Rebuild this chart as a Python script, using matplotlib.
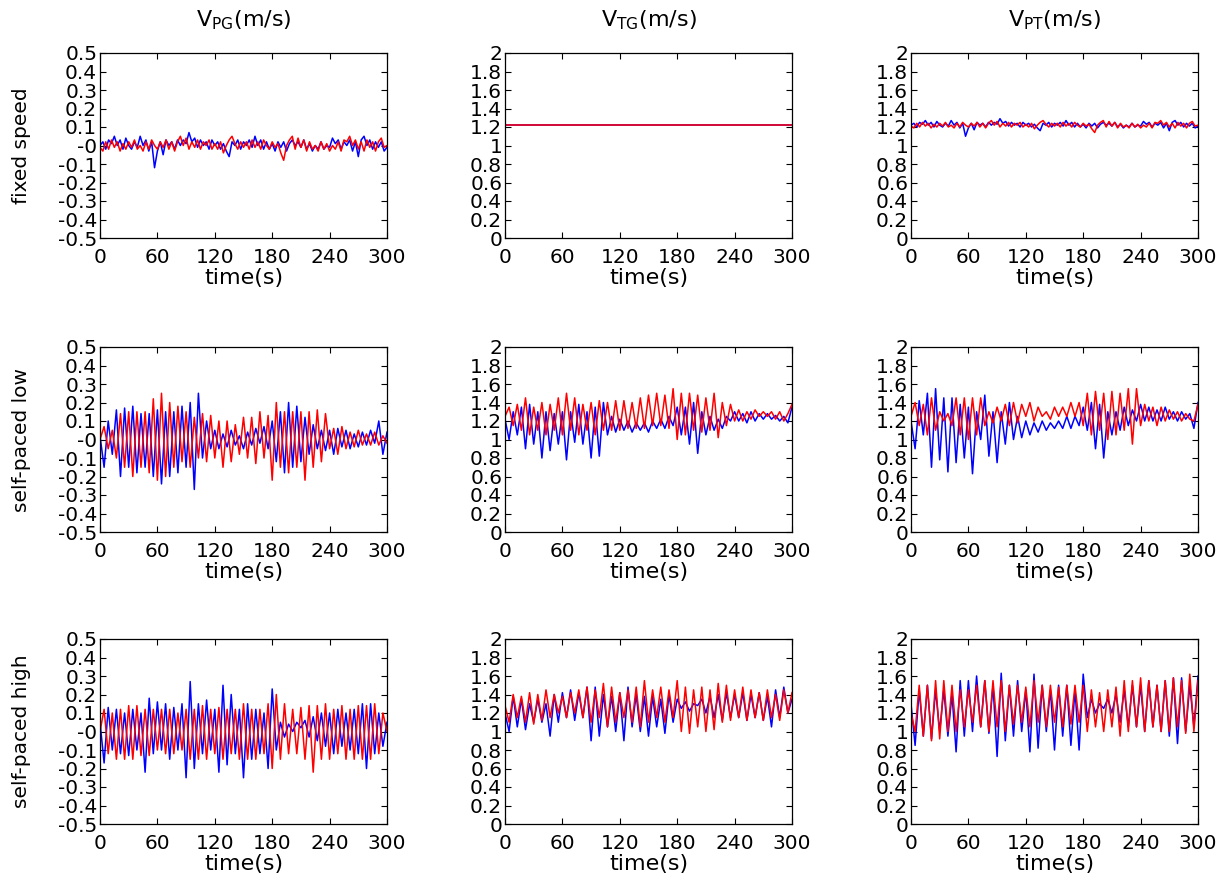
import numpy as np
import matplotlib
matplotlib.use("Agg")
import matplotlib.pyplot as plt

plt.rcParams['font.family'] = ['DejaVu Sans']
plt.rcParams['axes.unicode_minus'] = False
plt.rcParams['mathtext.fontset'] = 'dejavusans'

col_titles = ['PG', 'TG', 'PT']
row_labels = ['fixed speed', 'self-paced low', 'self-paced high']
x_ticks = [0, 60, 120, 180, 240, 300]

# ---- fixed speed (sampled every 3 s) ----
pg_fixed_blue = [0.0, 0.02, -0.02, 0.03, 0.01, 0.05, 0.0, 0.03, -0.02, 0.04,
                 0.0, -0.02, 0.02, -0.01, 0.05, 0.0, 0.03, -0.03, 0.02, -0.12,
                 -0.03, 0.02, -0.05, 0.03, 0.0, 0.02, -0.02, 0.03, 0.0, 0.03,
                 0.01, 0.07, 0.02, 0.04, -0.01, 0.03, 0.0, 0.02, -0.02, 0.03,
                 0.0, 0.02, -0.02, 0.01, -0.03, -0.06, 0.02, 0.0, 0.03, -0.02,
                 0.02, 0.0, 0.03, -0.01, 0.05, 0.0, 0.03, -0.02, 0.02, -0.02,
                 0.01, -0.03, 0.02, -0.01, 0.02, -0.03, 0.01, 0.03, 0.0, 0.02,
                 -0.01, 0.03, -0.02, 0.01, -0.03, 0.0, -0.02, 0.02, -0.02, 0.0,
                 -0.01, 0.04, 0.01, 0.03, -0.02, 0.02, 0.0, 0.03, -0.03, 0.02,
                 -0.06, 0.03, 0.05, 0.0, 0.03, -0.02, 0.02, -0.01, 0.02, -0.03,
                 -0.01]
pg_fixed_red = [-0.01, -0.03, 0.02, -0.02, 0.03, -0.01, 0.02, -0.03, 0.01, -0.02,
                0.02, -0.01, 0.03, -0.02, 0.0, -0.03, 0.02, -0.02, 0.03, 0.0,
                -0.02, 0.02, -0.01, 0.03, -0.02, 0.02, -0.03, 0.02, 0.05, 0.0,
                0.04, -0.02, 0.02, -0.01, 0.03, -0.02, 0.02, 0.0, 0.03, -0.02,
                0.01, -0.02, 0.02, -0.04, 0.0, 0.03, 0.05, 0.01, -0.02, 0.02,
                -0.01, 0.02, -0.02, 0.03, -0.01, 0.02, -0.02, 0.03, 0.0, -0.02,
                0.02, -0.01, 0.01, -0.04, -0.08, 0.0, 0.03, 0.05, -0.02, 0.04,
                -0.01, 0.03, -0.03, 0.02, -0.02, 0.0, -0.03, 0.02, -0.02, 0.01,
                -0.03, 0.0, -0.02, 0.02, -0.03, 0.03, 0.02, 0.05, 0.0, 0.03,
                -0.02, 0.02, -0.03, 0.03, -0.01, 0.02, -0.03, 0.02, 0.04, -0.01,
                0.0]
tg_fixed_blue = [1.22, 1.22]
tg_fixed_red = [1.22, 1.22]
pt_fixed_blue = [1.22, 1.24, 1.2, 1.25, 1.23, 1.27, 1.22, 1.25, 1.2, 1.26,
                 1.22, 1.2, 1.24, 1.21, 1.27, 1.22, 1.25, 1.19, 1.24, 1.1,
                 1.19, 1.24, 1.17, 1.25, 1.22, 1.24, 1.2, 1.25, 1.22, 1.25,
                 1.23, 1.29, 1.24, 1.26, 1.21, 1.25, 1.22, 1.24, 1.2, 1.25,
                 1.22, 1.24, 1.2, 1.23, 1.19, 1.16, 1.24, 1.22, 1.25, 1.2,
                 1.24, 1.22, 1.25, 1.21, 1.27, 1.22, 1.25, 1.2, 1.24, 1.2,
                 1.23, 1.19, 1.24, 1.21, 1.24, 1.19, 1.23, 1.25, 1.22, 1.24,
                 1.21, 1.25, 1.2, 1.23, 1.19, 1.22, 1.2, 1.24, 1.2, 1.22,
                 1.21, 1.26, 1.23, 1.25, 1.2, 1.24, 1.22, 1.25, 1.19, 1.24,
                 1.16, 1.25, 1.27, 1.22, 1.25, 1.2, 1.24, 1.21, 1.24, 1.19,
                 1.21]
pt_fixed_red = [1.21, 1.19, 1.24, 1.2, 1.25, 1.21, 1.24, 1.19, 1.23, 1.2,
                1.24, 1.21, 1.25, 1.2, 1.22, 1.19, 1.24, 1.2, 1.25, 1.22,
                1.2, 1.24, 1.21, 1.25, 1.2, 1.24, 1.19, 1.24, 1.27, 1.22,
                1.26, 1.2, 1.24, 1.21, 1.25, 1.2, 1.24, 1.22, 1.25, 1.2,
                1.23, 1.2, 1.24, 1.18, 1.22, 1.25, 1.27, 1.23, 1.2, 1.24,
                1.21, 1.24, 1.2, 1.25, 1.21, 1.24, 1.2, 1.25, 1.22, 1.2,
                1.24, 1.21, 1.23, 1.18, 1.14, 1.22, 1.25, 1.27, 1.2, 1.26,
                1.21, 1.25, 1.19, 1.24, 1.2, 1.22, 1.19, 1.24, 1.2, 1.23,
                1.19, 1.22, 1.2, 1.24, 1.19, 1.25, 1.24, 1.27, 1.22, 1.25,
                1.2, 1.24, 1.19, 1.25, 1.21, 1.24, 1.19, 1.24, 1.26, 1.21,
                1.22]

# ---- self-paced low (peaks/troughs, ~4.3 s apart) ----
pg_low_blue = [0.02, -0.15, 0.1, -0.08, 0.16, -0.2, 0.17, -0.15, 0.18, -0.18,
               0.14, -0.15, 0.14, -0.2, 0.16, -0.24, 0.15, -0.2, 0.15, -0.18,
               0.18, -0.15, 0.2, -0.27, 0.25, -0.1, 0.1, -0.05, 0.05, -0.05,
               0.03, -0.04, 0.05, -0.03, 0.02, -0.05, 0.04, -0.03, 0.06, -0.02,
               0.07, -0.05, 0.1, -0.12, 0.15, -0.18, 0.2, -0.15, 0.18, -0.12,
               0.12, -0.08, 0.08, -0.05, 0.05, -0.06, 0.05, -0.08, 0.06, -0.04,
               0.05, -0.05, 0.03, -0.04, 0.04, -0.03, 0.05, -0.02, 0.1, -0.08,
               0.04]
pg_low_red = [0.0, 0.07, -0.05, 0.05, -0.1, 0.14, -0.15, 0.15, -0.2, 0.15,
              -0.15, 0.15, -0.18, 0.22, -0.22, 0.25, -0.2, 0.2, -0.15, 0.18,
              -0.12, 0.15, -0.15, 0.12, -0.1, 0.14, -0.12, 0.13, -0.1, 0.1,
              -0.15, 0.1, -0.12, 0.08, -0.08, 0.12, -0.1, 0.12, -0.13, 0.15,
              -0.1, 0.13, -0.22, 0.2, -0.15, 0.15, -0.18, 0.15, -0.15, 0.15,
              -0.22, 0.15, -0.15, 0.16, -0.12, 0.14, -0.05, 0.06, -0.08, 0.07,
              -0.05, 0.04, -0.04, 0.05, -0.03, 0.03, -0.03, 0.04, -0.03, 0.02,
              -0.02]
tg_low_blue = [1.22, 1.0, 1.3, 1.05, 1.35, 0.9, 1.38, 0.95, 1.3, 0.8,
               1.3, 0.88, 1.28, 0.95, 1.3, 0.78, 1.3, 0.97, 1.38, 0.95,
               1.3, 0.8, 1.35, 0.82, 1.4, 1.05, 1.25, 1.08, 1.22, 1.1,
               1.2, 1.08, 1.18, 1.1, 1.18, 1.08, 1.2, 1.12, 1.22, 1.12,
               1.25, 1.15, 1.35, 1.05, 1.35, 0.95, 1.4, 0.85, 1.3, 1.05,
               1.25, 1.1, 1.22, 1.12, 1.25, 1.2, 1.3, 1.2, 1.28, 1.18,
               1.3, 1.2, 1.28, 1.22, 1.28, 1.22, 1.26, 1.2, 1.25, 1.18,
               1.35]
tg_low_red = [1.25, 1.35, 1.15, 1.38, 1.1, 1.45, 1.05, 1.35, 1.1, 1.4,
              1.05, 1.38, 1.1, 1.45, 1.05, 1.5, 1.1, 1.45, 1.05, 1.38,
              1.1, 1.4, 1.05, 1.42, 1.1, 1.4, 1.1, 1.42, 1.1, 1.42,
              1.12, 1.4, 1.12, 1.45, 1.12, 1.48, 1.15, 1.5, 1.15, 1.48,
              1.12, 1.55, 1.0, 1.5, 1.05, 1.5, 1.1, 1.48, 1.08, 1.45,
              1.1, 1.5, 1.02, 1.4, 1.15, 1.38, 1.2, 1.32, 1.2, 1.3,
              1.22, 1.32, 1.25, 1.3, 1.25, 1.3, 1.22, 1.3, 1.2, 1.28,
              1.38]
pt_low_blue = [1.2, 0.9, 1.42, 1.05, 1.5, 0.7, 1.55, 0.78, 1.45, 0.65,
               1.45, 0.75, 1.38, 0.8, 1.35, 0.63, 1.3, 1.0, 1.48, 0.82,
               1.3, 0.75, 1.3, 0.95, 1.4, 1.0, 1.25, 1.02, 1.2, 1.05,
               1.18, 1.08, 1.2, 1.1, 1.18, 1.12, 1.2, 1.12, 1.25, 1.12,
               1.25, 1.15, 1.35, 1.1, 1.4, 0.9, 1.38, 0.8, 1.3, 1.05,
               1.3, 1.1, 1.35, 1.15, 1.32, 1.2, 1.38, 1.2, 1.35, 1.2,
               1.32, 1.2, 1.35, 1.22, 1.3, 1.2, 1.3, 1.22, 1.28, 1.12,
               1.4]
pt_low_red = [1.25, 1.4, 1.15, 1.38, 1.05, 1.45, 1.1, 1.3, 1.2, 1.28,
              1.15, 1.45, 1.05, 1.45, 1.0, 1.45, 1.05, 1.45, 1.15, 1.3,
              1.18, 1.35, 1.2, 1.38, 1.15, 1.4, 1.18, 1.38, 1.25, 1.4,
              1.2, 1.35, 1.25, 1.3, 1.22, 1.35, 1.25, 1.35, 1.25, 1.4,
              1.25, 1.4, 1.15, 1.5, 1.05, 1.52, 1.1, 1.5, 1.0, 1.52,
              1.05, 1.5, 1.1, 1.55, 0.95, 1.55, 1.15, 1.38, 1.2, 1.35,
              1.15, 1.35, 1.2, 1.32, 1.22, 1.3, 1.2, 1.28, 1.22, 1.2,
              1.38]

# ---- self-paced high ----
pg_high_blue = [0.05, -0.17, 0.13, -0.1, 0.12, -0.12, 0.1, -0.13, 0.12, -0.1,
                0.1, -0.22, 0.18, -0.12, 0.16, -0.1, 0.15, -0.15, 0.13, -0.1,
                0.15, -0.25, 0.27, -0.2, 0.15, -0.12, 0.17, -0.1, 0.12, -0.22,
                0.25, -0.18, 0.2, -0.12, 0.12, -0.25, 0.15, -0.15, 0.12, -0.12,
                0.1, -0.2, 0.23, -0.1, 0.05, -0.03, 0.04, 0.0, 0.05, 0.02,
                0.06, -0.03, 0.08, -0.05, 0.1, -0.08, 0.1, -0.12, 0.12, -0.08,
                0.1, -0.1, 0.12, -0.12, 0.15, -0.2, 0.15, -0.12, 0.1, -0.08,
                0.05]
pg_high_red = [0.0, 0.12, -0.12, 0.1, -0.15, 0.12, -0.15, 0.14, -0.15, 0.14,
               -0.13, 0.12, -0.13, 0.12, -0.1, 0.12, -0.12, 0.12, -0.12, 0.1,
               -0.1, 0.12, -0.15, 0.12, -0.15, 0.14, -0.15, 0.12, -0.12, 0.13,
               -0.15, 0.12, -0.12, 0.12, -0.15, 0.15, -0.15, 0.12, -0.15, 0.12,
               -0.12, 0.15, -0.2, 0.2, -0.15, 0.15, -0.12, 0.12, -0.12, 0.13,
               -0.15, 0.14, -0.22, 0.14, -0.15, 0.15, -0.15, 0.12, -0.12, 0.14,
               -0.15, 0.12, -0.15, 0.14, -0.15, 0.14, -0.15, 0.15, -0.12, 0.1,
               0.0]
tg_high_blue = [1.2, 1.0, 1.38, 1.05, 1.35, 1.02, 1.3, 1.1, 1.35, 1.1,
                1.3, 0.95, 1.4, 1.1, 1.42, 1.15, 1.45, 1.12, 1.42, 1.15,
                1.48, 0.9, 1.48, 0.95, 1.4, 1.05, 1.38, 1.0, 1.42, 0.9,
                1.48, 1.05, 1.4, 1.0, 1.38, 0.95, 1.38, 1.05, 1.35, 0.98,
                1.4, 1.1, 1.35, 1.25, 1.32, 1.22, 1.3, 1.28, 1.35, 1.2,
                1.38, 1.15, 1.4, 1.12, 1.42, 1.15, 1.4, 1.15, 1.42, 1.12,
                1.4, 1.15, 1.42, 1.12, 1.38, 1.05, 1.45, 1.15, 1.48, 1.2,
                1.35]
tg_high_red = [1.28, 1.1, 1.4, 1.15, 1.38, 1.1, 1.42, 1.08, 1.4, 1.12,
               1.45, 1.15, 1.4, 1.2, 1.38, 1.15, 1.42, 1.2, 1.45, 1.15,
               1.48, 1.1, 1.45, 1.15, 1.52, 1.05, 1.48, 1.1, 1.42, 1.15,
               1.45, 1.1, 1.48, 1.05, 1.55, 1.1, 1.45, 1.15, 1.48, 1.1,
               1.45, 1.15, 1.55, 1.0, 1.48, 0.98, 1.45, 1.05, 1.48, 1.0,
               1.45, 1.02, 1.52, 1.1, 1.5, 1.12, 1.45, 1.15, 1.48, 1.12,
               1.45, 1.15, 1.42, 1.12, 1.45, 1.15, 1.4, 1.12, 1.45, 1.2,
               1.42]
pt_high_blue = [1.3, 0.85, 1.45, 0.95, 1.5, 0.92, 1.45, 1.0, 1.45, 0.95,
                1.4, 0.78, 1.55, 0.95, 1.55, 1.0, 1.6, 1.05, 1.55, 0.98,
                1.5, 0.73, 1.63, 0.9, 1.5, 0.95, 1.55, 1.0, 1.45, 0.78,
                1.62, 0.82, 1.5, 1.0, 1.45, 0.8, 1.5, 0.95, 1.5, 0.85,
                1.45, 0.8, 1.62, 1.15, 1.35, 1.2, 1.3, 1.25, 1.35, 1.2,
                1.4, 1.1, 1.45, 1.05, 1.5, 1.05, 1.5, 1.0, 1.55, 1.05,
                1.5, 1.0, 1.55, 0.95, 1.58, 0.87, 1.58, 1.0, 1.5, 1.05,
                1.6]
pt_high_red = [1.2, 1.0, 1.5, 0.95, 1.5, 0.9, 1.55, 0.92, 1.55, 1.0,
               1.5, 1.0, 1.45, 1.05, 1.45, 1.1, 1.5, 1.05, 1.55, 1.0,
               1.55, 1.05, 1.55, 1.0, 1.5, 1.08, 1.5, 1.1, 1.48, 1.05,
               1.55, 1.1, 1.5, 1.05, 1.5, 1.1, 1.48, 1.05, 1.5, 1.08,
               1.5, 1.1, 1.5, 1.0, 1.45, 1.05, 1.42, 1.0, 1.45, 1.05,
               1.48, 0.95, 1.55, 1.0, 1.55, 1.05, 1.58, 1.0, 1.55, 1.05,
               1.5, 1.0, 1.55, 1.0, 1.58, 1.05, 1.55, 0.98, 1.62, 1.0,
               1.55]

series = [
    [(pg_fixed_blue, pg_fixed_red), (tg_fixed_blue, tg_fixed_red), (pt_fixed_blue, pt_fixed_red)],
    [(pg_low_blue, pg_low_red), (tg_low_blue, tg_low_red), (pt_low_blue, pt_low_red)],
    [(pg_high_blue, pg_high_red), (tg_high_blue, tg_high_red), (pt_high_blue, pt_high_red)],
]

fig = plt.figure(figsize=(12.28, 8.86), dpi=100)

col_left = [100, 505, 911]
row_top = [53, 347, 639]
ax_w, ax_h = 287, 185
W, H = 1228.0, 886.0

for r in range(3):
    for c in range(3):
        ax = fig.add_axes([col_left[c] / W, 1 - (row_top[r] + ax_h) / H, ax_w / W, ax_h / H])
        blue, red = series[r][c]
        ax.plot(np.linspace(0, 300, len(blue)), blue, color='#0000ff', lw=1.1)
        ax.plot(np.linspace(0, 300, len(red)), red, color='#ff0000', lw=1.1)
        ax.set_xlim(0, 300)
        ax.set_xticks(x_ticks)
        if c == 0:
            ax.set_ylim(-0.5, 0.5)
            yt = np.round(np.arange(-0.5, 0.51, 0.1), 1)
        else:
            ax.set_ylim(0, 2)
            yt = np.round(np.arange(0, 2.01, 0.2), 1)
        ax.set_yticks(yt)
        ax.set_yticklabels(['%g' % v for v in yt])
        ax.tick_params(direction='in', top=True, right=True, length=4,
                       width=0.8, labelsize=14.5, colors='black')
        ax.tick_params(axis='y', pad=2)
        ax.tick_params(axis='x', pad=7)
        for s in ax.spines.values():
            s.set_linewidth(0.9)
        ax.set_xlabel('time(s)', fontsize=16, labelpad=1)
        if c == 0:
            ax.set_ylabel(row_labels[r], fontsize=14.5, labelpad=19)
        if r == 0:
            ax.set_title(r'V$_{\mathregular{%s}}$(m/s)' % col_titles[c], fontsize=16, pad=19)

fig.savefig('out.png', dpi=100)
